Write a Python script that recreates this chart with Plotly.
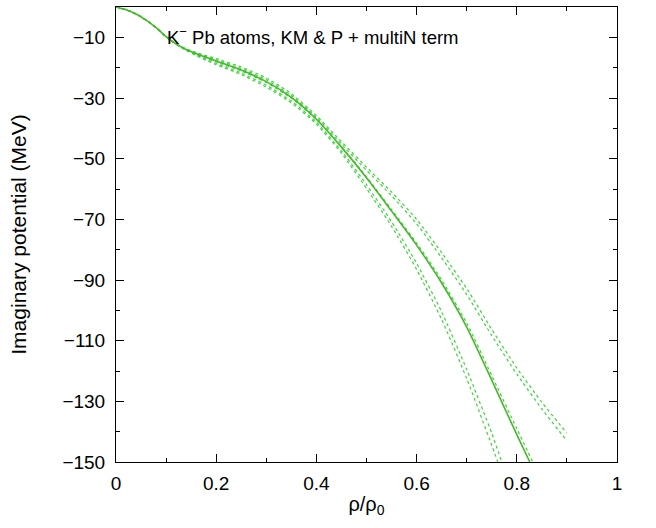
import plotly.graph_objects as go

# ---- data ----
x_head = [0, 0.02, 0.04, 0.06, 0.08, 0.10, 0.12]
y_head = [0, -0.9, -2.3, -4.3, -6.8, -9.8, -12.2]

x_solid = x_head + [0.14, 0.16, 0.18, 0.20, 0.25, 0.30, 0.35, 0.40, 0.45, 0.50, 0.55, 0.60, 0.65, 0.70, 0.75, 0.80, 0.826]
y_solid = y_head + [-14.0, -15.4, -16.6, -17.8, -20.8, -24.6, -29.8, -37.0, -46.2, -56.3, -67.3, -78.5, -91.0, -105.5, -123.0, -141.0, -150.0]

x_near = x_head + [0.14, 0.16, 0.18, 0.20, 0.25, 0.30, 0.35, 0.40, 0.45, 0.50, 0.55, 0.60, 0.65, 0.70, 0.75, 0.80, 0.832]
y_near = y_head + [-14.1, -15.6, -16.9, -18.1, -21.1, -24.9, -30.1, -37.1, -46.0, -56.0, -66.8, -77.8, -90.0, -104.2, -121.5, -139.0, -150.0]

x_low1 = x_head + [0.14, 0.16, 0.18, 0.20, 0.25, 0.30, 0.35, 0.40, 0.45, 0.50, 0.55, 0.60, 0.65, 0.70, 0.75, 0.770]
y_low1 = y_head + [-14.2, -15.8, -17.3, -18.6, -21.8, -25.8, -31.0, -38.0, -47.4, -58.6, -70.8, -84.5, -100.5, -119.5, -140.5, -150.0]

x_low2 = x_head + [0.14, 0.16, 0.18, 0.20, 0.25, 0.30, 0.35, 0.40, 0.45, 0.50, 0.55, 0.60, 0.65, 0.70, 0.75, 0.762]
y_low2 = y_head + [-14.3, -16.0, -17.6, -19.0, -22.3, -26.4, -31.6, -38.6, -48.2, -59.8, -72.3, -86.5, -103.0, -122.5, -144.5, -150.0]

x_up1 = x_head + [0.14, 0.16, 0.18, 0.20, 0.25, 0.30, 0.35, 0.40, 0.45, 0.50, 0.55, 0.60, 0.65, 0.70, 0.75, 0.80, 0.85, 0.90]
y_up1 = y_head + [-13.8, -15.0, -16.0, -17.0, -19.8, -23.4, -28.6, -35.8, -44.4, -52.8, -61.0, -70.0, -81.0, -92.8, -106.3, -119.0, -130.3, -140.5]

x_up2 = x_head + [0.14, 0.16, 0.18, 0.20, 0.25, 0.30, 0.35, 0.40, 0.45, 0.50, 0.55, 0.60, 0.65, 0.70, 0.75, 0.80, 0.85, 0.90]
y_up2 = y_head + [-13.9, -15.2, -16.3, -17.4, -20.3, -24.0, -29.2, -36.4, -45.2, -53.8, -62.2, -71.5, -82.7, -94.8, -108.3, -121.0, -132.5, -143.0]

y_ticks = [-10, -30, -50, -70, -90, -110, -130, -150]
x_ticks = [0, 0.2, 0.4, 0.6, 0.8, 1]
x_tick_labels = ["0", "0.2", "0.4", "0.6", "0.8", "1"]

solid_color = "#46b82a"
dot_color = "#3ad43a"

fig = go.Figure()
for xs, ys in [(x_up1, y_up1), (x_up2, y_up2), (x_low1, y_low1), (x_low2, y_low2), (x_near, y_near)]:
    fig.add_trace(go.Scatter(x=xs, y=ys, mode="lines",
                             line=dict(color=dot_color, width=1.2, dash="dot", shape="spline", smoothing=0.6),
                             showlegend=False, hoverinfo="skip"))
fig.add_trace(go.Scatter(x=x_solid, y=y_solid, mode="lines",
                         line=dict(color=solid_color, width=1.6, shape="spline", smoothing=0.6),
                         showlegend=False))

font_family = "Liberation Sans, Arial, Helvetica, sans-serif"
fig.update_layout(
    width=656, height=528,
    margin=dict(l=116, r=39, t=7, b=66),
    paper_bgcolor="white", plot_bgcolor="white",
    font=dict(family=font_family, size=19, color="black"),
    xaxis=dict(range=[0, 1], tickvals=x_ticks, ticktext=x_tick_labels,
               ticks="inside", ticklen=8, tickwidth=1, tickcolor="black",
               ticklabelstandoff=4,
               minor=dict(ticks="inside", dtick=0.1, tick0=0, ticklen=4, tickcolor="black"),
               showline=True, linecolor="black", linewidth=1, mirror="ticks",
               showgrid=False, zeroline=False,
               title=dict(text="ρ/ρ<sub>0</sub>", font=dict(size=20), standoff=4)),
    yaxis=dict(range=[-150, 0], tickvals=y_ticks,
               ticks="inside", ticklen=8, tickwidth=1, tickcolor="black",
               ticklabelstandoff=6,
               minor=dict(ticks="inside", dtick=10, tick0=0, ticklen=4, tickcolor="black"),
               showline=True, linecolor="black", linewidth=1, mirror="ticks",
               showgrid=False, zeroline=False,
               title=dict(text="Imaginary potential (MeV)", font=dict(size=21), standoff=30)),
    annotations=[dict(text="K<sup>−</sup> Pb atoms, KM &amp; P + multiN term",
                      xref="paper", yref="paper", x=0.098, y=0.937,
                      xanchor="left", yanchor="middle", showarrow=False,
                      font=dict(size=18.5, family=font_family, color="black"))],
)

fig.write_html("out.html", config={"displayModeBar": False},
               post_script="document.body.style.margin='0';document.body.style.padding='0';")
